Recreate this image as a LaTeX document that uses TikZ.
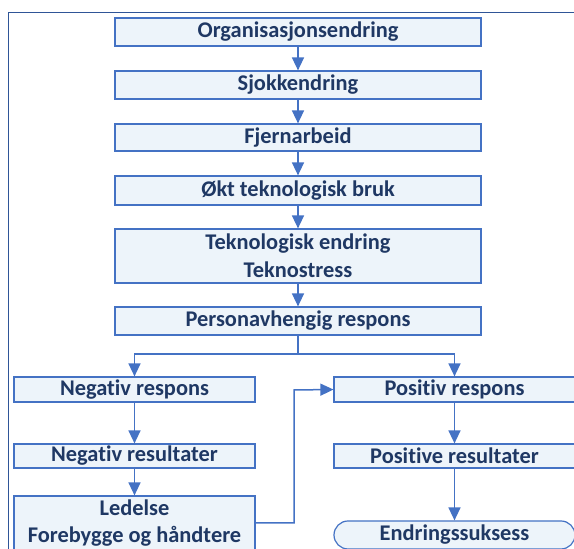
\documentclass[tikz,border=0pt]{standalone}
\usepackage{fontspec}
\setmainfont[Ligatures=NoCommon]{Carlito}
\usepackage{tikz}
\usetikzlibrary{arrows.meta}
\definecolor{framecol}{RGB}{47, 85, 151}
\definecolor{boxline}{RGB}{68, 114, 196}
\definecolor{boxfill}{RGB}{237, 244, 250}
\definecolor{textcol}{RGB}{31, 56, 100}

\begin{document}
\begin{tikzpicture}[x=0.5pt, y=-0.5pt,
    stepbox/.style={draw=boxline, fill=boxfill, line width=0.6pt, inner sep=0pt,
      text=textcol, font=\fontsize{11.2}{13.8}\selectfont\bfseries, align=center},
    wide/.style={stepbox, minimum width=183pt},
    half/.style={stepbox, minimum width=120.5pt},
    flow/.style={draw=boxline, line width=0.75pt, -{Triangle[length=6.5pt, width=6pt]}}]
  \useasboundingbox (0,0) rectangle (574,549);
  \clip (0,0) rectangle (574,549);
  \draw[framecol, line width=0.8pt] (8.5,620) -- (8.5,12.5) -- (640,12.5);
  \node[wide, minimum height=14pt] (orgendring) at (298,32) {Organisasjonsendring};
  \node[wide, minimum height=14pt] (sjokk) at (298,85) {Sjokkendring};
  \node[wide, minimum height=13.5pt] (fjern) at (298,137.5) {Fjernarbeid};
  \node[wide, minimum height=14.5pt] (teknobruk) at (298,190.5) {Økt teknologisk bruk};
  \node[wide, minimum height=27pt] (teknostress) at (298,256) {Teknologisk endring\\Teknostress};
  \node[wide, minimum height=14pt] (person) at (298,321) {Personavhengig respons};
  \node[half, minimum height=12.5pt] (negresp) at (134.5,389.5) {Negativ respons};
  \node[half, minimum height=12pt] (negres) at (134.5,456) {Negativ resultater};
  \node[half, minimum height=27pt] (ledelse) at (134.5,523) {Ledelse\\Forebygge og håndtere};
  \node[half, minimum height=12.5pt] (posresp) at (454.5,389.5) {Positiv respons};
  \node[half, minimum height=12pt] (posres) at (454.5,456) {Positive resultater};
  \node[half, minimum height=14pt, rounded corners=7pt] (suksess) at (454.5,535) {Endringssuksess};
  \coordinate (split) at (298,354);
  \coordinate (bend) at (294,390);
  \draw[flow] (orgendring) -- (sjokk);
  \draw[flow] (sjokk) -- (fjern);
  \draw[flow] (fjern) -- (teknobruk);
  \draw[flow] (teknobruk) -- (teknostress);
  \draw[flow] (teknostress) -- (person);
  \draw[draw=boxline, line width=0.75pt] (person) -- (split);
  \draw[flow] (split) -| (negresp);
  \draw[flow] (split) -| (posresp);
  \draw[flow] (negresp) -- (negres);
  \draw[flow] (negres) -- (ledelse);
  \draw[flow] (ledelse.east) -| (bend) -- (posresp.west);
  \draw[flow] (posresp) -- (posres);
  \draw[flow] (posres) -- (suksess);
\end{tikzpicture}
\end{document}
